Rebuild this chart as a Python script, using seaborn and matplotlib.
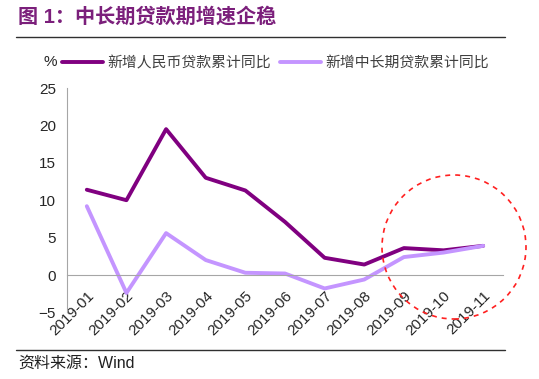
import pandas as pd
import matplotlib.pyplot as plt
import seaborn as sns
from matplotlib.patches import Ellipse
from matplotlib.lines import Line2D

# dados
meses = ['2019-01', '2019-02', '2019-03', '2019-04', '2019-05', '2019-06',
         '2019-07', '2019-08', '2019-09', '2019-10', '2019-11']
rmb_total = [11.4, 10.0, 19.5, 13.0, 11.3, 7.1, 2.3, 1.4, 3.6, 3.3, 3.9]
medio_longo = [9.2, -2.4, 5.6, 2.0, 0.3, 0.2, -1.8, -0.6, 2.4, 3.0, 3.9]
serie1 = '新增人民币贷款累计同比'
serie2 = '新增中长期贷款累计同比'

df = pd.DataFrame({
    'mes': meses * 2,
    'valor': rmb_total + medio_longo,
    'serie': [serie1] * len(meses) + [serie2] * len(meses),
})

sns.set_style('white')
plt.rcParams['font.family'] = ['Liberation Sans', 'Noto Sans CJK SC', 'DejaVu Sans']

cores = {serie1: '#800080', serie2: '#C495FF'}

fig = plt.figure(figsize=(5.39, 3.79), dpi=100)
ax = fig.add_axes([0.1243, 0.1757, 0.8089, 0.5921])

sns.lineplot(data=df, x='mes', y='valor', hue='serie', palette=cores,
             linewidth=2.8, ax=ax, legend=False, sort=False)

ax.set_xlim(-0.5, len(meses) - 0.5)
ax.set_ylim(-5, 25)
ax.set_yticks([-5, 0, 5, 10, 15, 20, 25])
ax.set_xticks(range(len(meses)))
ax.set_xticks([i - 0.5 for i in range(len(meses) + 1)], minor=True)
ax.set_xlabel('')
ax.set_ylabel('')

for s in ['top', 'right']:
    ax.spines[s].set_visible(False)
ax.spines['bottom'].set_position(('data', 0))
ax.spines['bottom'].set_color('#A6A6A6')
ax.spines['left'].set_color('#A6A6A6')
ax.tick_params(axis='x', which='major', length=0, labelsize=11, pad=10)
ax.tick_params(axis='x', which='minor', direction='in', length=4, color='#A6A6A6')
ax.tick_params(axis='y', direction='in', length=4, color='#A6A6A6', labelsize=11, pad=8)
ax.set_xticklabels(meses)
for lab in ax.get_xticklabels():
    lab.set_rotation(45)
    lab.set_ha('right')
    lab.set_va('top')
    lab.set_rotation_mode('anchor')

# círculo vermelho tracejado
circ = Ellipse((454 / 539, 1 - 247 / 379), 144 / 539, 144 / 379, transform=fig.transFigure,
               fill=False, edgecolor='#FF2020', linestyle=(0, (3, 3)), linewidth=1.2,
               clip_on=False)
fig.patches.append(circ)

# legenda
handles = [Line2D([], [], color=cores[serie1], lw=2.8),
           Line2D([], [], color=cores[serie2], lw=2.8)]
fig.legend(handles, [serie1, serie2], loc='center left', bbox_to_anchor=(62 / 539, 1 - 63 / 379),
           ncol=2, frameon=False, fontsize=10.7, handlelength=2.75, handletextpad=0.3,
           columnspacing=0.6, labelcolor='#404040', borderaxespad=0, borderpad=0)
fig.text(43 / 539, 1 - 62 / 379, '%', fontsize=11, ha='left', va='center')

# título e rodapé
fig.text(18 / 539, 1 - 17 / 379, '图 1：中长期贷款期增速企稳', fontsize=14.5, fontweight='bold',
         color='#7B1F7B', ha='left', va='center')
fig.add_artist(Line2D([16 / 539, 505 / 539], [1 - 37 / 379, 1 - 37 / 379],
                      color='#303030', lw=1.0, transform=fig.transFigure))
fig.add_artist(Line2D([16 / 539, 505 / 539], [1 - 350 / 379, 1 - 350 / 379],
                      color='#303030', lw=1.0, transform=fig.transFigure))
fig.text(18 / 539, 1 - 363 / 379, '资料来源：Wind', fontsize=11.5, color='#202020',
         ha='left', va='center')

fig.savefig('out.png', dpi=100)
